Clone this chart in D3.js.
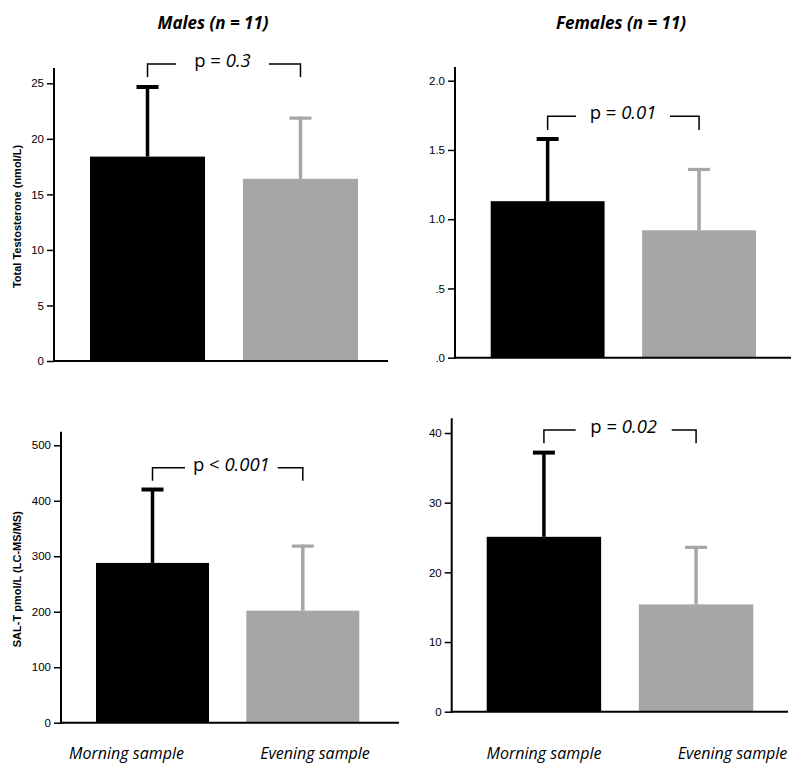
<!DOCTYPE html>
<html>
<head>
<meta charset="utf-8">
<script src="https://cdn.jsdelivr.net/npm/d3@7"></script>
<style>
  html, body { margin: 0; padding: 0; background: #fff; }
  svg { display: block; }
</style>
</head>
<body>
<svg id="chart" width="800" height="772"></svg>
<script>
// ---- data ----
const groups = ["Morning sample", "Evening sample"];
const panelTitles = ["Males (n = 11)", "Females (n = 11)"];
const yLabels = ["Total Testosterone (nmol/L)", "SAL-T pmol/L (LC-MS/MS)"];

const maleTotalMean = [18.4, 16.4];
const maleTotalSD   = [6.4, 5.6];
const femaleTotalMean = [1.13, 0.92];
const femaleTotalSD   = [0.46, 0.45];
const maleSalMean = [288, 202];
const maleSalSD   = [135, 119];
const femaleSalMean = [25.1, 15.4];
const femaleSalSD   = [12.3, 8.4];

const maleTotalTicks = [0, 5, 10, 15, 20, 25];
const femaleTotalTicks = [0, 0.5, 1.0, 1.5, 2.0];
const femaleTotalTickLabels = [".0", ".5", "1.0", "1.5", "2.0"];
const maleSalTicks = [0, 100, 200, 300, 400, 500];
const femaleSalTicks = [0, 10, 20, 30, 40];

const pPrefix = ["p = ", "p = ", "p < ", "p = "];
const pValues = ["0.3", "0.01", "0.001", "0.02"];

const barColors = ["#000000", "#a6a6a6"];

// ---- layout ----
const panels = [
  { mean: maleTotalMean, sd: maleTotalSD, ticks: maleTotalTicks, tickLabels: null,
    axisX: 54, top: 68, base: 361, tickTop: 83.3, xEnd: 388, bars: [90, 358],
    yMax: 25, bracketTop: 64, bracketBot: 77, gapL: 176, gapR: 269,
    title: 0, titleX: 213, ylab: 0, xlabX: null, pi: 0 },
  { mean: femaleTotalMean, sd: femaleTotalSD, ticks: femaleTotalTicks, tickLabels: femaleTotalTickLabels,
    axisX: 455, top: 67, base: 357.7, tickTop: 80.7, xEnd: 791, bars: [490.7, 756],
    yMax: 2, bracketTop: 116.3, bracketBot: 130, gapL: 576, gapR: 670,
    title: 1, titleX: 621, ylab: null, xlabX: null, pi: 1 },
  { mean: maleSalMean, sd: maleSalSD, ticks: maleSalTicks, tickLabels: null,
    axisX: 61, top: 431.7, base: 722.7, tickTop: 445.3, xEnd: 399, bars: [96, 359.3],
    yMax: 500, bracketTop: 467.7, bracketBot: 480.7, gapL: 185, gapR: 277.7,
    title: null, ylab: 1, xlabX: [126.5, 315], pi: 2 },
  { mean: femaleSalMean, sd: femaleSalSD, ticks: femaleSalTicks, tickLabels: null,
    axisX: 451.7, top: 418.3, base: 711.7, tickTop: 433, xEnd: 788, bars: [486.7, 753.3],
    yMax: 40, bracketTop: 430, bracketBot: 443.3, gapL: 575.7, gapR: 671.7,
    title: null, ylab: null, xlabX: [544, 732.5], pi: 3 }
];

const svg = d3.select("#chart");
const tickFont = "'Liberation Sans', Arial, sans-serif";
const textFont = "'Open Sans', sans-serif";

panels.forEach(p => {
  const g = svg.append("g");
  const y = d3.scaleLinear().domain([0, p.yMax]).range([p.base, p.tickTop]);
  const x = d3.scaleBand().domain(groups).range(p.bars).paddingInner(0.248).paddingOuter(0);

  // bars
  g.selectAll("rect.bar").data(groups).enter().append("rect")
    .attr("class", "bar")
    .attr("x", d => x(d))
    .attr("width", x.bandwidth())
    .attr("y", (d, i) => y(p.mean[i]))
    .attr("height", (d, i) => p.base - y(p.mean[i]))
    .attr("fill", (d, i) => barColors[i]);

  // error bars (upper only)
  groups.forEach((d, i) => {
    const cx = x(d) + x.bandwidth() / 2;
    const yTop = y(p.mean[i] + p.sd[i]);
    g.append("line")
      .attr("x1", cx).attr("x2", cx)
      .attr("y1", y(p.mean[i])).attr("y2", yTop)
      .attr("stroke", barColors[i]).attr("stroke-width", 3.5);
    g.append("line")
      .attr("x1", cx - 11).attr("x2", cx + 11)
      .attr("y1", yTop + 1.5).attr("y2", yTop + 1.5)
      .attr("stroke", barColors[i]).attr("stroke-width", i === 0 ? 4 : 3.2);
  });

  // y axis
  const axis = d3.axisLeft(y).tickValues(p.ticks).tickSize(7).tickPadding(3)
    .tickFormat((d, i) => p.tickLabels ? p.tickLabels[i] : d3.format("d")(d));
  const ag = g.append("g").attr("transform", `translate(${p.axisX},0)`).call(axis);
  ag.select(".domain").remove();
  ag.selectAll(".tick line").attr("stroke", "#000").attr("stroke-width", 1.5);
  ag.selectAll(".tick text").attr("font-family", tickFont).attr("font-size", 11.5).attr("fill", "#000");

  g.append("line").attr("x1", p.axisX).attr("x2", p.axisX)
    .attr("y1", p.top).attr("y2", p.base + 1)
    .attr("stroke", "#000").attr("stroke-width", 2);
  g.append("line").attr("x1", p.axisX - 1).attr("x2", p.xEnd)
    .attr("y1", p.base).attr("y2", p.base)
    .attr("stroke", "#000").attr("stroke-width", 2);

  // significance bracket
  const cx0 = x(groups[0]) + x.bandwidth() / 2;
  const cx1 = x(groups[1]) + x.bandwidth() / 2;
  g.append("path")
    .attr("d", `M${cx0},${p.bracketBot}V${p.bracketTop}H${p.gapL}`)
    .attr("stroke", "#000").attr("stroke-width", 1.5).attr("fill", "none");
  g.append("path")
    .attr("d", `M${p.gapR},${p.bracketTop}H${cx1}V${p.bracketBot}`)
    .attr("stroke", "#000").attr("stroke-width", 1.5).attr("fill", "none");
  const pt = g.append("text")
    .attr("x", (p.gapL + p.gapR) / 2)
    .attr("y", p.bracketTop + 3)
    .attr("text-anchor", "middle")
    .attr("font-family", textFont).attr("font-size", 18.5).attr("fill", "#000");
  pt.append("tspan").text(pPrefix[p.pi]);
  pt.append("tspan").attr("font-style", "italic").text(pValues[p.pi]);

  // title
  if (p.title !== null) {
    g.append("text")
      .attr("x", p.titleX)
      .attr("y", 29)
      .attr("text-anchor", "middle")
      .attr("font-family", textFont).attr("font-size", 17)
      .attr("font-weight", "bold").attr("font-style", "italic")
      .text(panelTitles[p.title]);
  }
  // y label
  if (p.ylab !== null) {
    g.append("text")
      .attr("transform", `translate(21,${(p.top + p.base) / 2 + 2}) rotate(-90)`)
      .attr("text-anchor", "middle")
      .attr("font-family", tickFont).attr("font-size", 11)
      .attr("font-weight", "bold")
      .text(yLabels[p.ylab]);
  }
  // x labels
  if (p.xlabX) {
    g.selectAll("text.xlab").data(groups).enter().append("text")
      .attr("class", "xlab")
      .attr("x", (d, i) => p.xlabX[i])
      .attr("y", 759)
      .attr("text-anchor", "middle")
      .attr("font-family", textFont).attr("font-size", 16)
      .attr("font-style", "italic")
      .text(d => d);
  }
});
</script>
</body>
</html>
